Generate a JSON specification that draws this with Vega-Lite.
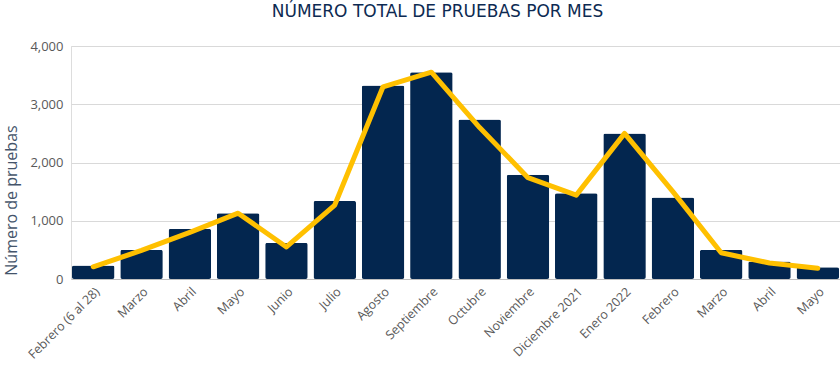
{
  "$schema": "https://vega.github.io/schema/vega-lite/v6.json",
  "autosize": "none",
  "width": 769,
  "height": 233,
  "padding": {"left": 71, "top": 46, "right": 0, "bottom": 99},
  "background": "white",
  "title": {
    "text": "NÚMERO TOTAL DE PRUEBAS POR MES",
    "font": "DejaVu Sans",
    "fontSize": 17,
    "fontWeight": "normal",
    "color": "#0d2a52",
    "anchor": "middle",
    "dx": -18,
    "offset": 19
  },
  "data": {
    "values": [
      {"k": "Febrero (6 al 28)|1", "pruebas": 230, "tendencia": 210},
      {"k": "Marzo|2", "pruebas": 500, "tendencia": 490},
      {"k": "Abril|3", "pruebas": 860, "tendencia": 800},
      {"k": "Mayo|4", "pruebas": 1130, "tendencia": 1130},
      {"k": "Junio|5", "pruebas": 620, "tendencia": 550},
      {"k": "Julio|6", "pruebas": 1340, "tendencia": 1270},
      {"k": "Agosto|7", "pruebas": 3320, "tendencia": 3300},
      {"k": "Septiembre|8", "pruebas": 3550, "tendencia": 3550},
      {"k": "Octubre|9", "pruebas": 2740, "tendencia": 2600},
      {"k": "Noviembre|10", "pruebas": 1790, "tendencia": 1740},
      {"k": "Diciembre 2021|11", "pruebas": 1470, "tendencia": 1440},
      {"k": "Enero 2022|12", "pruebas": 2500, "tendencia": 2500},
      {"k": "Febrero|13", "pruebas": 1400, "tendencia": 1500},
      {"k": "Marzo|14", "pruebas": 500, "tendencia": 450},
      {"k": "Abril|15", "pruebas": 300, "tendencia": 275},
      {"k": "Mayo|16", "pruebas": 200, "tendencia": 185}
    ]
  },
  "encoding": {
    "x": {
      "field": "k",
      "type": "ordinal",
      "sort": null,
      "scale": {"paddingInner": 0.12, "paddingOuter": 0.02},
      "axis": {
        "title": null,
        "labelExpr": "split(datum.value, '|')[0]",
        "labelAngle": -45,
        "labelFont": "Open Sans",
        "labelFontSize": 12.5,
        "labelColor": "#595959",
        "labelPadding": 6,
        "ticks": false,
        "domainColor": "#bfbfbf",
        "domainWidth": 1.2
      }
    }
  },
  "layer": [
    {
      "mark": {"type": "bar", "color": "#03264f", "cornerRadius": 2},
      "encoding": {
        "y": {
          "field": "pruebas",
          "type": "quantitative",
          "scale": {"domain": [0, 4000]},
          "axis": {
            "title": "Número de pruebas",
            "titleFont": "Open Sans",
            "titleFontSize": 16,
            "titleFontWeight": "normal",
            "titleColor": "#44546a",
            "titlePadding": 10,
            "titleY": 154,
            "values": [0, 1000, 2000, 3000, 4000],
            "format": ",.0f",
            "labelFont": "Open Sans",
            "labelFontSize": 13,
            "labelColor": "#595959",
            "labelPadding": 8,
            "ticks": false,
            "domain": false,
            "gridColor": "#d9d9d9",
            "gridWidth": 1.2
          }
        }
      }
    },
    {
      "mark": {"type": "line", "color": "#ffc000", "strokeWidth": 5, "strokeCap": "round", "strokeJoin": "round"},
      "encoding": {
        "y": {"field": "tendencia", "type": "quantitative"}
      }
    }
  ]
}
